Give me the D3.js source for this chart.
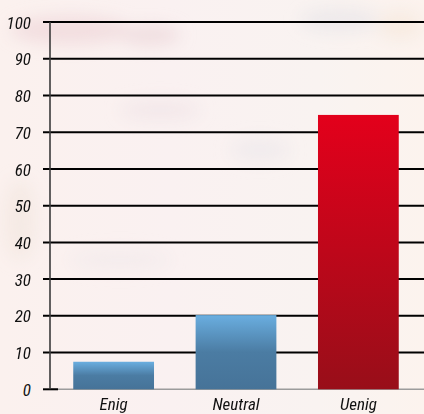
<!DOCTYPE html>
<html><head><meta charset="utf-8">
<script src="https://cdn.jsdelivr.net/npm/d3@7"></script>
<style>
html,body{margin:0;padding:0;background:#fbf4f2;}
svg{display:block;}
text{font-family:"Liberation Sans Narrow","Roboto Condensed","Roboto",sans-serif;font-style:italic;fill:#111;}
</style></head>
<body>
<svg id="c" width="424" height="414"></svg>
<script>
const categories = ["Enig", "Neutral", "Uenig"];
const values = [7.5, 20.2, 74.7];
const yTicks = [0, 10, 20, 30, 40, 50, 60, 70, 80, 90, 100];

const W = 424, H = 414;
const svg = d3.select("#c");
const defs = svg.append("defs");

// soft photo-like background
const bg = defs.append("linearGradient").attr("id","bg").attr("x1",0).attr("y1",0).attr("x2",1).attr("y2",0);
bg.append("stop").attr("offset",0).attr("stop-color","#fbf1ee");
bg.append("stop").attr("offset",0.4).attr("stop-color","#faf1f1");
bg.append("stop").attr("offset",0.75).attr("stop-color","#f9f3f1");
bg.append("stop").attr("offset",1).attr("stop-color","#fcf3ee");
svg.append("rect").attr("width",W).attr("height",H).attr("fill","url(#bg)");
const blur = defs.append("filter").attr("id","blur").attr("x","-50%").attr("y","-50%").attr("width","200%").attr("height","200%");
blur.append("feGaussianBlur").attr("stdDeviation",8);
const blobs = [[70,30,60,14,"#f0dadc"],[150,35,30,10,"#eed9dc"],[340,20,40,12,"#ebe7ea"],[20,220,16,40,"#f4e8e2"],[160,110,40,10,"#f1e6e8"],[260,150,30,12,"#efeaec"],[120,260,50,10,"#f3ebec"],[400,25,22,14,"#f6eadf"]];
svg.append("g").attr("filter","url(#blur)").selectAll("ellipse").data(blobs).join("ellipse")
  .attr("cx",d=>d[0]).attr("cy",d=>d[1]).attr("rx",d=>d[2]).attr("ry",d=>d[3]).attr("fill",d=>d[4]).attr("opacity",0.8);

const x = d3.scaleBand().domain(categories).range([50, 422]).paddingInner(0.34).paddingOuter(0.19);
const y = d3.scaleLinear().domain([0, 100]).range([389.3, 22]);

// gradients
const gb = defs.append("linearGradient").attr("id","gBlue").attr("x1",0).attr("y1",0).attr("x2",0).attr("y2",1);
gb.append("stop").attr("offset",0).attr("stop-color","#6aaee0");
gb.append("stop").attr("offset",0.5).attr("stop-color","#4b7ca3");
gb.append("stop").attr("offset",1).attr("stop-color","#467398");
const gr = defs.append("linearGradient").attr("id","gRed").attr("x1",0).attr("y1",0).attr("x2",0).attr("y2",1);
gr.append("stop").attr("offset",0).attr("stop-color","#e3001b");
gr.append("stop").attr("offset",1).attr("stop-color","#980e19");
const fills = ["url(#gBlue)","url(#gBlue)","url(#gRed)"];

// gridlines
const yAxis = d3.axisLeft(y).tickValues(yTicks).tickSize(0).tickPadding(0).tickFormat(d3.format("d"));
svg.append("g").selectAll("line").data(yTicks.filter(d=>d>0)).join("line")
  .attr("x1",43).attr("x2",W).attr("y1",d=>y(d)).attr("y2",d=>y(d))
  .attr("stroke","#000").attr("stroke-width",2);
// zero line
svg.append("line").attr("x1",50).attr("x2",W).attr("y1",y(0)).attr("y2",y(0)).attr("stroke","#9c9c9c").attr("stroke-width",1.5);
svg.append("line").attr("x1",43).attr("x2",58).attr("y1",y(0)).attr("y2",y(0)).attr("stroke","#000").attr("stroke-width",2);

// bars
svg.append("g").selectAll("rect").data(categories).join("rect")
  .attr("x",d=>x(d)).attr("width",x.bandwidth())
  .attr("y",(d,i)=>y(values[i])).attr("height",(d,i)=>y(0)-y(values[i]))
  .attr("fill",(d,i)=>fills[i]);

// y axis line
svg.append("line").attr("x1",50).attr("x2",50).attr("y1",y(100)).attr("y2",y(0)).attr("stroke","#3a3a3a").attr("stroke-width",1.6);

// y labels
const ya = svg.append("g").attr("transform","translate(31,0)").call(yAxis);
ya.select(".domain").remove();
ya.selectAll("text").attr("font-size",17).attr("dy","0.36em").attr("font-family",null).attr("fill","#111");

// x labels
const xAxis = d3.axisBottom(x).tickSize(0).tickPadding(0);
const xa = svg.append("g").attr("transform","translate(0,410)").call(xAxis);
xa.select(".domain").remove();
xa.selectAll("text").attr("font-size",17).attr("dy",0).attr("y",0).attr("font-family",null).attr("fill","#111");
</script>
</body></html>
